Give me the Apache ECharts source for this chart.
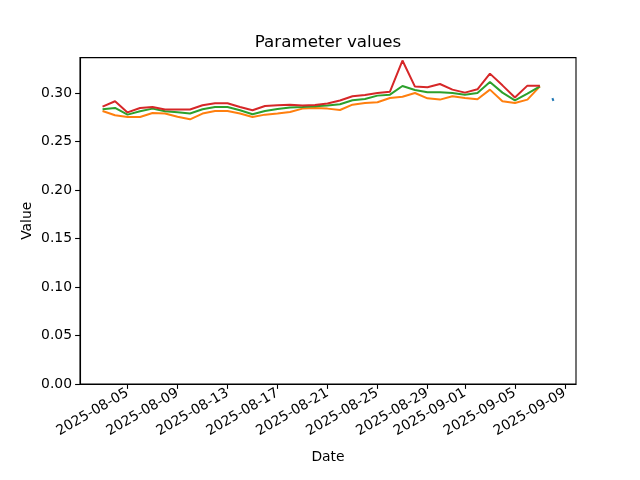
<!DOCTYPE html>
<html>
<head>
<meta charset="utf-8">
<script src="https://cdn.jsdelivr.net/npm/echarts@6/dist/echarts.min.js"></script>
<style>html,body{margin:0;padding:0;background:#fff}#c{width:640px;height:480px}</style>
</head>
<body>
<div id="c"></div>
<script>
// ---- data ----
const dates = [
  '2025-08-03','2025-08-04','2025-08-05','2025-08-06','2025-08-07','2025-08-08','2025-08-09',
  '2025-08-10','2025-08-11','2025-08-12','2025-08-13','2025-08-14','2025-08-15','2025-08-16',
  '2025-08-17','2025-08-18','2025-08-19','2025-08-20','2025-08-21','2025-08-22','2025-08-23',
  '2025-08-24','2025-08-25','2025-08-26','2025-08-27','2025-08-28','2025-08-29','2025-08-30',
  '2025-08-31','2025-09-01','2025-09-02','2025-09-03','2025-09-04','2025-09-05','2025-09-06',
  '2025-09-07'
];
const orangeValues = [
  0.2815,0.2770,0.2753,0.2753,0.2794,0.2788,0.2755,0.2729,0.2788,0.2815,0.2815,0.2788,
  0.2753,0.2777,0.2788,0.2804,0.2839,0.2846,0.2839,0.2825,0.2880,0.2897,0.2904,0.2948,
  0.2962,0.3000,0.2945,0.2932,0.2966,0.2948,0.2935,0.3035,0.2915,0.2897,0.2932,0.3069
];
const greenValues = [
  0.2832,0.2846,0.2777,0.2812,0.2839,0.2812,0.2801,0.2788,0.2832,0.2856,0.2856,0.2822,
  0.2781,0.2815,0.2834,0.2850,0.2856,0.2863,0.2870,0.2884,0.2925,0.2938,0.2973,0.2983,
  0.3072,0.3031,0.3007,0.3007,0.3000,0.2983,0.3000,0.3113,0.3004,0.2925,0.2994,0.3069
];
const redValues = [
  0.2860,0.2915,0.2800,0.2845,0.2855,0.2830,0.2830,0.2830,0.2873,0.2895,0.2895,0.2856,
  0.2822,0.2866,0.2873,0.2880,0.2870,0.2877,0.2891,0.2922,0.2966,0.2980,0.3000,0.3014,
  0.3335,0.3066,0.3059,0.3093,0.3035,0.3004,0.3038,0.3200,0.3079,0.2953,0.3076,0.3076
];
const blueTimes = ['2025-09-08T00:00:00Z','2025-09-08T02:00:00Z'];
const blueValues = [0.2948, 0.2918];
const xTickLabels = ['2025-08-05','2025-08-09','2025-08-13','2025-08-17','2025-08-21',
  '2025-08-25','2025-08-29','2025-09-01','2025-09-05','2025-09-09'];
const yTicks = [0.00,0.05,0.10,0.15,0.20,0.25,0.30];

// ---- build ----
const toT = s => Date.parse(s.length === 10 ? s + 'T00:00:00Z' : s);
const pairs = (xs, ys) => xs.map((d, i) => [toT(d), ys[i]]);
const tMin = toT(dates[0]);
const tMax = toT(blueTimes[blueTimes.length - 1]);
const pad = 0.05 * (tMax - tMin);
const xTickVals = xTickLabels.map(toT);
const fmt = v => {
  const d = new Date(v);
  const p = n => String(n).padStart(2, '0');
  return d.getUTCFullYear() + '-' + p(d.getUTCMonth() + 1) + '-' + p(d.getUTCDate());
};
const FONT = 'DejaVu Sans';
const chart = echarts.init(document.getElementById('c'), null, {renderer: 'canvas'});
const lineSeries = (name, data, color) => ({
  name, type: 'line', data, showSymbol: false, symbol: 'none',
  lineStyle: {color, width: 2}, itemStyle: {color}, animation: false
});
chart.setOption({
  animation: false,
  backgroundColor: '#fff',
  textStyle: {fontFamily: FONT},
  title: {
    text: 'Parameter values', left: 328, top: 34, textAlign: 'center', padding: 0,
    textStyle: {fontFamily: FONT, fontSize: 16.7, fontWeight: 'normal', color: '#000'}
  },
  grid: {left: 80, right: 64, top: 57.6, bottom: 96, show: true,
    borderColor: '#000', borderWidth: 1.1, backgroundColor: 'transparent', containLabel: false},
  xAxis: {
    type: 'value', min: tMin - pad, max: tMax + pad, scale: true,
    name: 'Date', nameLocation: 'middle', nameGap: 66, nameMoveOverlap: false,
    nameTextStyle: {fontFamily: FONT, fontSize: 13.9, color: '#000'},
    axisLine: {show: true, onZero: false, lineStyle: {color: '#000', width: 1.1}},
    axisTick: {show: true, length: 4.9, lineStyle: {color: '#000', width: 1.1}, customValues: xTickVals},
    axisLabel: {customValues: xTickVals, formatter: fmt, rotate: 30, margin: 8,
      fontFamily: FONT, fontSize: 13.9, color: '#000', hideOverlap: false},
    splitLine: {show: false}
  },
  yAxis: {
    type: 'value', min: 0, max: 0.3365,
    name: 'Value', nameLocation: 'middle', nameGap: 46, nameMoveOverlap: false,
    nameTextStyle: {fontFamily: FONT, fontSize: 13.9, color: '#000'},
    axisLine: {show: true, lineStyle: {color: '#000', width: 1.1}},
    axisTick: {show: true, length: 4.9, lineStyle: {color: '#000', width: 1.1}, customValues: yTicks},
    axisLabel: {customValues: yTicks, formatter: v => v.toFixed(2), margin: 8,
      fontFamily: FONT, fontSize: 13.9, color: '#000'},
    splitLine: {show: false}
  },
  series: [
    lineSeries('blue', pairs(blueTimes, blueValues), '#1f77b4'),
    lineSeries('orange', pairs(dates, orangeValues), '#ff7f0e'),
    lineSeries('green', pairs(dates, greenValues), '#2ca02c'),
    lineSeries('red', pairs(dates, redValues), '#d62728')
  ]
});
</script>
</body>
</html>
